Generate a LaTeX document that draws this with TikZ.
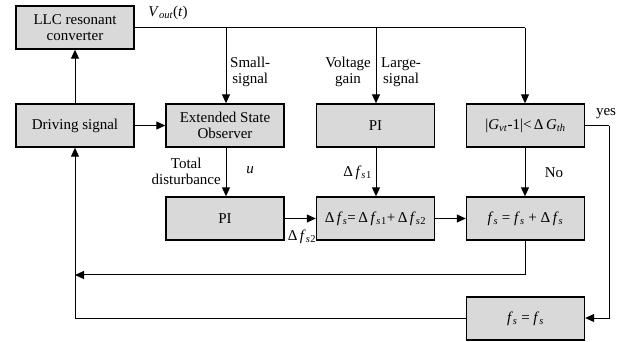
\documentclass[tikz,border=0pt]{standalone}
\usepackage{fontspec}
\setmainfont{Liberation Serif}
\usetikzlibrary{arrows.meta}
\newcommand\ital[1]{\textit{#1}}
\newcommand\sbi[1]{\textsubscript{\textit{#1}}}
\tikzset{
  blk/.style={draw=black,line width=1.4pt,fill=black!15,minimum width=118pt,minimum height=43pt,inner sep=0pt,align=center,font=\fontsize{15}{16}\selectfont},
  lbl/.style={font=\fontsize{15}{16}\selectfont,align=center,inner sep=1pt},
  con/.style={line width=1pt},
  arr/.style={con,-{Triangle[length=9pt,width=8pt]}}
}
\begin{document}
\begin{tikzpicture}[x=1pt,y=-1pt]
\useasboundingbox (0,0) rectangle (630,342);
\node[blk] (llc) at (75,27.5) {LLC resonant\\converter};
\node[blk] (drv) at (75,125.5) {Driving signal};
\node[blk] (eso) at (225,125.5) {Extended State\\Observer};
\node[blk] (pia) at (375.5,125.5) {PI};
\node[blk] (gvt) at (525.5,125.5) {|\ital{G}\sbi{vt}-1|<\,Δ\,\ital{G}\sbi{th}};
\node[blk] (pib) at (225,218.5) {PI};
\node[blk] (sum) at (375.5,218.5) {Δ\,\ital{f}\sbi{s}=\,Δ\,\ital{f}\sbi{s}\textsubscript{1}+\,Δ\,\ital{f}\sbi{s}\textsubscript{2}};
\node[blk] (fsn) at (525.5,218.5) {\ital{f}\sbi{s} = \ital{f}\sbi{s} + Δ\,\ital{f}\sbi{s}};
\node[blk] (fss) at (525.5,318.5) {\ital{f}\sbi{s} = \ital{f}\sbi{s}};
% coordinates
\coordinate (v1) at (226,28);
\coordinate (v2) at (376,28);
\coordinate (v3) at (525,28);
\coordinate (y1) at (609,126);
\coordinate (y2) at (609,318);
\coordinate (fb1) at (525,275);
\coordinate (fb2) at (75,275);
\coordinate (fb3) at (75,318);
% connectors
\draw[con] (llc.east |- v1) -- (v3);
\draw[arr] (v1) -- (eso.north -| v1);
\draw[arr] (v2) -- (pia.north -| v2);
\draw[arr] (v3) -- (gvt.north -| v3);
\draw[arr] (drv) -- (llc);
\draw[arr] (drv) -- (eso);
\draw[arr] (eso.south -| v1) -- (pib.north -| v1);
\draw[arr] (pib) -- (sum);
\draw[arr] (pia.south -| v2) -- (sum.north -| v2);
\draw[arr] (sum) -- (fsn);
\draw[arr] (gvt.south -| v3) -- (fsn.north -| v3);
\draw[con] (gvt.east |- y1) -- (y1);
\draw[arr] (y1) -- (y2) -- (fss.east |- y2);
\draw[arr] (fsn.south -| fb1) -- (fb1) -- (fb2);
\draw[arr] (fss.west |- fb3) -- (fb3) -- (drv.south);
% labels
\node[lbl] (lv) at (168,13) {\ital{V}\sbi{out}(\ital{t})};
\node[lbl,anchor=west] (ls) at (229,72) {Small-\\signal};
\node[lbl,anchor=east] (lvg) at (372,72) {Voltage\\gain};
\node[lbl,anchor=west] (lls) at (380,72) {Large-\\signal};
\node[lbl,anchor=east] (ltd) at (222,171) {Total\\disturbance};
\node[lbl] (lu) at (250,170) {\ital{u}};
\node[lbl,anchor=east] (lf1) at (373,173) {Δ\,\ital{f}\sbi{s}\textsubscript{1}};
\node[lbl] (lf2) at (302,237) {Δ\,\ital{f}\sbi{s}\textsubscript{2}};
\node[lbl] (lno) at (554,173) {No};
\node[lbl] (lyes) at (606,114) {yes};
\end{tikzpicture}
\end{document}
